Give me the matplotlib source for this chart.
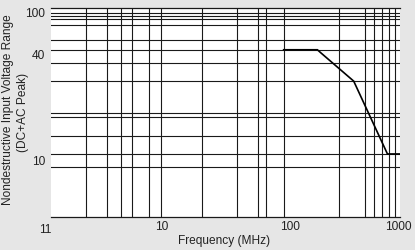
import matplotlib

matplotlib.use("Agg")
import matplotlib.pyplot as plt

# curve: nondestructive input voltage vs frequency
freq_mhz = [100, 195, 208, 400, 780, 1000]
volts = [40, 40, 37.5, 20, 4, 4]

# irregular grid
x_grid = [2, 3, 4, 5, 7, 8.9, 20, 40, 60, 70, 100, 300, 500, 600, 700, 800, 900]
y_grid = [3, 4, 6, 9.1, 9.9, 20, 30, 40, 50, 69, 79, 85, 89.5]

# tick labels sit where the picture puts them, not on grid lines
x_tick_pos = [9.0, 113, 961]
x_tick_labels = ["10", "100", "1000"]
y_tick_pos = [91.6, 36.2, 3.5]
y_tick_labels = ["100", "40", "10"]

BG = "#e6e6e6"
LINE = "#1a1a1a"
TEXT = "#222222"

plt.rcParams["font.family"] = ["Liberation Sans", "DejaVu Sans"]
plt.rcParams["font.size"] = 8.6
plt.rcParams["text.color"] = TEXT
plt.rcParams["xtick.color"] = TEXT
plt.rcParams["ytick.color"] = TEXT

fig = plt.figure(figsize=(4.15, 2.5), dpi=100, facecolor=BG)
ax = fig.add_axes([51 / 415, 1 - 216.7 / 250, 349 / 415, 208.4 / 250])
ax.set_facecolor("white")
ax.set_xscale("log")
ax.set_yscale("log")
ax.set_xlim(1, 1000)
ax.set_ylim(1, 100)

for x in x_grid:
    ax.axvline(x, color=LINE, lw=0.8)
for y in y_grid:
    ax.axhline(y, color=LINE, lw=0.8)

ax.plot(freq_mhz, volts, color="black", lw=1.2, solid_joinstyle="miter")

ax.minorticks_off()
ax.set_xticks(x_tick_pos, x_tick_labels)
ax.set_yticks(y_tick_pos, y_tick_labels)
ax.tick_params(length=0, pad=4.3)
ax.tick_params(axis="x", pad=3.2)
ax.text(0.888, -0.037, "11", transform=ax.get_xaxis_transform(), ha="center", va="top")

for side in ("left", "right"):
    ax.spines[side].set_visible(False)
for side in ("top", "bottom"):
    ax.spines[side].set_color(LINE)
    ax.spines[side].set_linewidth(0.9)

fig.text(224 / 415, 1 - 241 / 250, "Frequency (MHz)", ha="center", va="center")
fig.text(8 / 415, 1 - 110 / 250, "Nondestructive Input Voltage Range",
         rotation=90, ha="center", va="center")
fig.text(23 / 415, 1 - 112 / 250, "(DC+AC Peak)", rotation=90, ha="center", va="center")

fig.savefig("out.png", dpi=100, facecolor=BG)
